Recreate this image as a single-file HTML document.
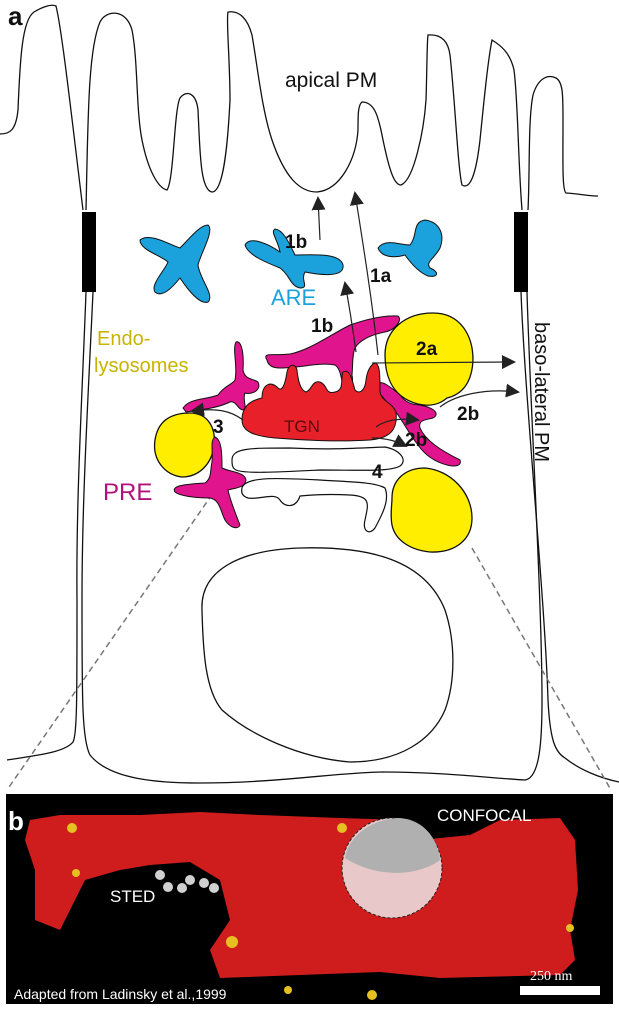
<!DOCTYPE html>
<html><head><style>
body{margin:0;background:#fff;}
svg{display:block;font-family:"Liberation Sans",Arial,sans-serif;}
</style></head><body>
<svg width="619" height="1011" viewBox="0 0 619 1011">
<defs>
<marker id="ah2" markerWidth="14" markerHeight="14" refX="12" refY="7" orient="auto" markerUnits="userSpaceOnUse"><path d="M0,0 L14,7 L0,14 Z" fill="#222"/></marker>
</defs>
<!-- cell outline -->
<g fill="none" stroke="#111" stroke-width="1.3">
<path d="M0,134 C10,134 16,130 18,110 C20,60 22,20 34,12 C44,6 52,4 56,6 C62,30 72,120 83,210"/>
<path d="M86,210 C88,120 88,50 100,22 C106,10 126,8 132,30 C138,60 136,110 142,140 C148,170 158,188 167,190 C174,180 174,110 180,98 C186,90 196,92 198,110 C200,150 200,190 212,192 C224,192 228,140 230,100 C230,60 226,20 228,12 C240,10 248,20 252,35 C258,70 262,110 272,140 C285,178 300,192 317,192 C340,190 356,160 358,130 C358,115 358,105 362,102 C374,102 378,115 382,135 C390,175 395,185 401,185 C414,180 424,130 426,100 C427,70 427,40 428,35 C440,34 448,40 450,55 C455,100 458,170 462,185 C470,190 476,175 480,140 C484,100 488,60 492,40 C500,45 510,52 514,70 C518,100 518,160 522,210"/>
<path d="M528,210 C530,170 528,120 533,95 C538,78 548,74 556,78 C563,82 563,95 563,120 C563,160 562,190 566,193 C580,194 590,196 598,196"/>
<!-- left lateral below bar -->
<path d="M86,292 C82,400 76,500 77,600 C77,700 77,735 73,742 C65,752 40,755 7,760"/>
<path d="M93,292 C88,400 82,500 82,600 C82,700 82,740 90,755 C110,780 160,783 200,783 C280,783 340,772 385,772 C440,772 490,778 525,780 C540,778 542,740 542,700 C542,600 530,400 527,292"/>
<path d="M521,292 C525,400 545,600 548,700 C550,740 555,752 565,758 C580,770 600,778 619,782"/>
</g>
<rect x="82" y="212" width="14" height="80" fill="#000"/>
<rect x="514" y="212" width="14" height="80" fill="#000"/>
<!-- dashed -->
<line x1="218" y1="486" x2="7" y2="790" stroke="#777" stroke-width="1.5" stroke-dasharray="6,4"/>
<line x1="472" y1="548" x2="611" y2="790" stroke="#777" stroke-width="1.5" stroke-dasharray="6,4"/>
<!-- nucleus -->
<path d="M202,610 C200,570 240,550 300,548 C370,546 425,560 445,610 C455,640 456,680 445,710 C432,740 400,762 350,762 C300,758 250,735 222,710 C205,690 203,650 202,610 Z" fill="#fff" stroke="#111" stroke-width="1.3"/>
<!-- ARE -->
<g fill="#1ba1dc" stroke="#111" stroke-width="1">
<path d="M140,240 C150,232 170,245 180,248 C190,238 200,225 208,225 C215,230 200,255 198,265 C200,280 215,295 208,302 C200,305 188,290 180,278 C172,288 162,298 155,292 C150,285 165,270 168,262 C160,255 140,250 140,240 Z"/>
<path d="M245,245 C250,235 270,245 280,252 C278,240 270,232 275,229 C284,230 290,245 295,255 C310,255 340,252 343,265 C345,278 320,275 305,272 C300,280 310,288 300,288 C290,286 290,275 280,268 C265,262 248,255 245,245 Z"/>
<path d="M378,248 C385,238 400,245 410,245 C418,235 412,222 425,220 C440,222 445,235 440,248 C435,258 425,262 430,268 C440,272 438,278 428,276 C418,272 410,262 405,255 C395,258 382,258 378,248 Z"/>
</g>
<!-- yellow -->
<g fill="#ffee00" stroke="#111" stroke-width="1.3">
<path d="M385,355 C385,330 405,313 433,313 C460,313 473,335 473,360 C472,385 460,395 447,398 C440,404 430,407 418,404 C395,398 385,380 385,355 Z"/>
<path d="M155,440 C158,420 172,413 190,413 C208,413 216,428 214,445 C212,465 198,477 182,477 C165,475 152,460 155,440 Z"/>
<path d="M392,498 C392,480 405,468 425,468 C450,470 472,492 472,518 C472,540 455,553 430,552 C410,550 395,540 392,525 C390,515 392,505 392,498 Z"/>
</g>
<!-- magenta -->
<g fill="#e0148c" stroke="#111" stroke-width="1">
<path d="M267,360 C262,352 272,356 290,354 C310,350 330,335 350,325 C370,318 385,315 398,316 C403,320 395,330 385,332 C370,335 360,340 355,348 C352,355 353,365 352,375 C354,385 350,390 345,388 C340,380 342,370 335,365 C320,362 300,368 280,368 C272,368 268,365 267,360 Z"/>
<path d="M183,408 C190,398 205,400 218,395 C225,385 232,385 235,380 C238,365 232,350 236,342 C242,340 244,355 243,370 C245,380 252,378 258,382 C262,390 252,395 245,393 C242,400 248,408 243,410 C238,410 236,400 230,402 C218,408 200,410 186,412 Z"/>
<path d="M377,385 C380,378 392,388 400,395 C405,402 412,405 420,405 C435,408 440,414 433,418 C425,420 418,420 420,428 C425,440 440,450 460,460 C462,466 455,467 447,465 C435,462 425,455 418,445 C410,435 405,425 398,415 C388,402 378,395 377,385 Z"/>
<path d="M175,492 C170,485 190,484 205,483 C212,478 210,470 212,462 C213,450 210,440 215,437 C222,440 222,455 222,468 C230,472 245,472 246,480 C245,488 235,488 228,490 C230,500 235,512 240,525 C238,530 230,528 225,520 C220,510 220,500 210,498 C195,498 180,496 175,492 Z"/>
</g>
<!-- TGN -->
<path d="M242,420 C242,405 252,400 262,398 C262,385 270,380 278,388 C282,392 285,385 287,372 C288,365 295,362 297,370 C298,380 300,390 306,392 C312,390 312,380 320,382 C328,385 325,395 335,392 C345,390 340,378 343,372 C350,368 352,380 355,390 C360,395 365,390 366,380 C367,372 370,365 375,363 C380,364 380,375 380,392 C382,402 392,402 396,412 C398,430 390,438 370,440 C340,442 300,440 275,438 C255,436 242,432 242,420 Z" fill="#e8202a" stroke="#111" stroke-width="1"/>
<!-- golgi cisternae -->
<g fill="#fff" stroke="#111" stroke-width="1.2">
<path d="M232,460 C232,448 250,448 290,448 C330,450 360,448 385,447 C400,450 408,460 400,466 C390,472 360,470 320,470 C280,472 245,474 236,470 C232,468 232,464 232,460 Z"/>
<path d="M242,488 C245,476 280,478 320,480 C350,482 375,482 385,488 C390,500 382,515 375,528 C370,535 362,532 365,520 C368,505 372,496 350,495 C330,494 310,495 300,496 C296,508 285,508 280,500 C275,492 260,500 248,498 C242,496 241,492 242,488 Z"/>
</g>
<!-- arrows -->
<g fill="none" stroke="#222" stroke-width="1.2">
<path d="M320,240 L318,198" marker-end="url(#ah2)"/>
<path d="M378,355 C372,300 364,250 355,193" marker-end="url(#ah2)"/>
<path d="M356,352 C353,330 350,310 345,283" marker-end="url(#ah2)"/>
<path d="M372,363 L514,362" marker-end="url(#ah2)"/>
<path d="M440,407 C455,395 485,388 518,392" marker-end="url(#ah2)"/>
<path d="M243,420 C230,410 215,408 192,411" marker-end="url(#ah2)"/>
<path d="M376,427 C385,420 400,418 418,420" marker-end="url(#ah2)"/>
<path d="M372,438 C388,438 398,442 406,446" marker-end="url(#ah2)"/>
</g>
<!-- labels -->
<text x="8" y="25" font-size="26" font-weight="bold" fill="#111">a</text>
<text x="285" y="87" font-size="21" fill="#111">apical PM</text>
<text x="271" y="305" font-size="22" fill="#1ba1dc">ARE</text>
<text x="285" y="248" font-size="19" font-weight="bold" fill="#111">1b</text>
<text x="370" y="282" font-size="19" font-weight="bold" fill="#111">1a</text>
<text x="311" y="332" font-size="19" font-weight="bold" fill="#111">1b</text>
<text x="416" y="355" font-size="19" font-weight="bold" fill="#111">2a</text>
<text x="457" y="420" font-size="19" font-weight="bold" fill="#111">2b</text>
<text x="405" y="446" font-size="19" font-weight="bold" fill="#111">2b</text>
<text x="372" y="478" font-size="19" font-weight="bold" fill="#111">4</text>
<text x="213" y="433" font-size="19" font-weight="bold" fill="#111">3</text>
<text x="284" y="432" font-size="17" fill="#5a0a0a">TGN</text>
<text x="97" y="345" font-size="20" fill="#c8b400">Endo-</text>
<text x="94" y="372" font-size="20" fill="#c8b400">lysosomes</text>
<text x="103" y="500" font-size="24" fill="#b0127a">PRE</text>
<text transform="translate(535,322) rotate(90)" font-size="20" fill="#111">baso-lateral PM</text>
<!-- panel b -->
<rect x="6" y="794" width="607" height="210" fill="#000"/>
<path d="M30,820 L60,815 L140,815 L200,812 L260,815 L340,818 L400,820 L420,840 L470,835 L500,820 L560,818 L575,840 L578,890 L570,930 L575,960 L560,975 L440,978 L380,972 L300,975 L220,978 L210,950 L230,920 L220,880 L190,862 L150,865 L120,870 L85,880 L60,930 L35,920 L35,870 L25,840 Z" fill="#cf1d1d"/>
<circle cx="392" cy="868" r="50" fill="#e8c8c8" stroke="#222" stroke-dasharray="3,2"/>
<path d="M345,858 C350,830 380,818 400,818 C425,820 438,840 440,860 C420,875 380,880 345,858 Z" fill="#b0b0b0"/>
<g fill="#d0d0d0"><circle cx="160" cy="875" r="5"/><circle cx="168" cy="887" r="5"/><circle cx="182" cy="888" r="5"/><circle cx="190" cy="880" r="5"/><circle cx="204" cy="883" r="5"/><circle cx="214" cy="888" r="5"/></g>
<g fill="#e6c020"><circle cx="72" cy="828" r="5"/><circle cx="76" cy="873" r="4"/><circle cx="232" cy="942" r="6"/><circle cx="342" cy="828" r="5"/><circle cx="372" cy="995" r="5"/><circle cx="570" cy="928" r="4"/><circle cx="288" cy="990" r="4"/></g>
<text x="8" y="830" font-size="26" font-weight="bold" fill="#fff">b</text>
<text x="437" y="821" font-size="17" fill="#fff">CONFOCAL</text>
<text x="110" y="902" font-size="17" fill="#fff">STED</text>
<text x="14" y="999" font-size="14" fill="#fff">Adapted from Ladinsky et al.,1999</text>
<text x="530" y="980" font-size="14" font-family="Liberation Serif,serif" fill="#fff">250 nm</text>
<rect x="520" y="986" width="80" height="9" fill="#fff"/>
</svg>
</body></html>
